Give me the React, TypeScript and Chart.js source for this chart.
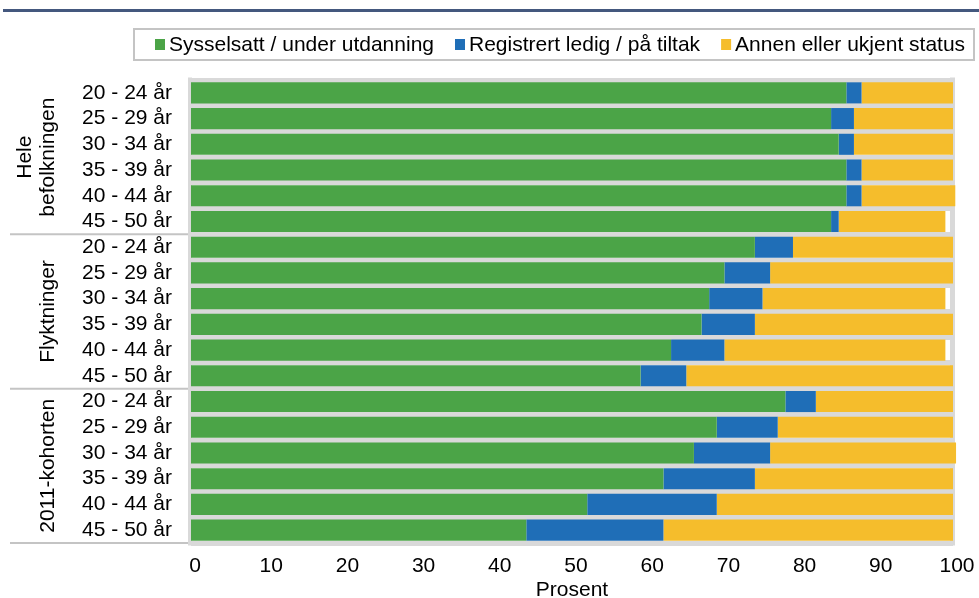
import React, { useEffect, useRef } from "react";
import { Chart, registerables } from "chart.js";

Chart.register(...registerables);

const FONT = "'Liberation Sans', Arial, Helvetica, sans-serif";

const ageGroups = ["20 - 24 år", "25 - 29 år", "30 - 34 år", "35 - 39 år", "40 - 44 år", "45 - 50 år"];
const groupNames = [["Hele", "befolkningen"], ["Flyktninger"], ["2011-kohorten"]];
const categories = groupNames.flatMap(() => ageGroups);

const seriesNames = ["Sysselsatt / under utdanning", "Registrert ledig / på tiltak", "Annen eller ukjent status"];
const seriesColors = ["#4ba447", "#1f6eb7", "#f5bd2c"];

const sysselsatt = [86, 84, 85, 86, 86, 84, 74, 70, 68, 67, 63, 59, 78, 69, 66, 62, 52, 44];
const ledig = [2, 3, 2, 2, 2, 1, 5, 6, 7, 7, 7, 6, 4, 8, 10, 12, 17, 18];
const annen = [12, 13, 13, 12, 12.3, 14, 21, 24, 24, 26, 29, 35, 18, 23, 24.4, 26, 31, 38];

const xMin = 0;
const xMax = 100;
const xStep = 10;
const xTitle = "Prosent";

const framePlugin = {
  id: "frame",
  beforeDatasetsDraw(chart: any) {
    const { ctx, chartArea: a } = chart;
    ctx.save();
    ctx.strokeStyle = "#d9d9d9";
    ctx.lineWidth = 4;
    ctx.beginPath();
    ctx.moveTo(a.left - 1, a.top - 2.5);
    ctx.lineTo(a.left - 1, a.bottom + 2.5);
    ctx.stroke();
    ctx.lineWidth = 5;
    ctx.beginPath();
    ctx.moveTo(a.right - 0.5, a.top - 2.5);
    ctx.lineTo(a.right - 0.5, a.bottom + 2.5);
    ctx.stroke();
    ctx.restore();
  },
};

const decorPlugin = {
  id: "decor",
  afterDraw(chart: any) {
    const { ctx, chartArea: a, scales } = chart;
    const y = scales.y;
    ctx.save();
    // header rule
    ctx.strokeStyle = "#44587e";
    ctx.lineWidth = 3;
    ctx.beginPath();
    ctx.moveTo(3, 10.5);
    ctx.lineTo(chart.width, 10.5);
    ctx.stroke();

    // legend
    ctx.font = `21px ${FONT}`;
    ctx.textBaseline = "middle";
    ctx.textAlign = "left";
    ctx.strokeStyle = "#c4c4c4";
    ctx.lineWidth = 2;
    ctx.strokeRect(134, 29, 840, 31);
    let x = 155;
    chart.data.datasets.forEach((ds: any) => {
      ctx.fillStyle = ds.backgroundColor;
      ctx.fillRect(x, 39, 10, 11);
      ctx.fillStyle = "#000";
      ctx.fillText(ds.label, x + 14, 45);
      x += 14 + ctx.measureText(ds.label).width + 21;
    });

    // group separators and labels
    const n = ageGroups.length;
    const step = y.getPixelForValue(1) - y.getPixelForValue(0);
    groupNames.forEach((lines, g) => {
      const topY = y.getPixelForValue(g * n) - step / 2;
      const botY = y.getPixelForValue(g * n + n - 1) + step / 2;
      ctx.strokeStyle = "#c4c4c4";
      ctx.lineWidth = 2;
      ctx.beginPath();
      ctx.moveTo(10, botY);
      ctx.lineTo(a.left - 3, botY);
      ctx.stroke();
      const cy = (topY + botY) / 2;
      ctx.fillStyle = "#000";
      ctx.textAlign = "center";
      ctx.textBaseline = "middle";
      lines.forEach((line, i) => {
        const lx = 48 - (lines.length - 1 - i) * 23;
        ctx.save();
        ctx.translate(lx, cy);
        ctx.rotate(-Math.PI / 2);
        ctx.fillText(line, 0, 0);
        ctx.restore();
      });
    });
    ctx.restore();
  },
};

export default function App() {
  const ref = useRef<HTMLCanvasElement | null>(null);

  useEffect(() => {
    if (!ref.current) return;
    const values = [sysselsatt, ledig, annen];
    const chart = new Chart(ref.current, {
      type: "bar",
      data: {
        labels: categories,
        datasets: seriesNames.map((name, i) => ({
          label: name,
          data: values[i],
          backgroundColor: seriesColors[i],
          borderWidth: 0,
          barPercentage: 0.82,
          categoryPercentage: 1,
          clip: false as any,
        })),
      },
      options: {
        indexAxis: "y",
        responsive: false,
        animation: false,
        events: [],
        layout: { padding: { top: 80, right: 26, bottom: -3, left: 0 } },
        plugins: {
          legend: { display: false },
          tooltip: { enabled: false },
          title: { display: false },
        },
        scales: {
          x: {
            stacked: true,
            min: xMin,
            max: xMax,
            grid: { display: false, drawTicks: false },
            border: { display: false },
            ticks: {
              stepSize: xStep,
              autoSkip: false,
              maxRotation: 0,
              minRotation: 0,
              padding: 13,
              labelOffset: 4,
              color: "#000",
              font: { family: FONT, size: 21, lineHeight: 1 },
            },
            title: {
              display: true,
              text: xTitle,
              color: "#000",
              padding: { top: -10, bottom: 0 },
              font: { family: FONT, size: 21, lineHeight: 1 },
            },
            afterFit(scale: any) {
              scale.paddingRight = 0;
              scale.paddingLeft = 0;
            },
          },
          y: {
            stacked: true,
            grid: { offset: true, color: "#d9d9d9", lineWidth: 5, drawTicks: false },
            border: { display: false },
            ticks: {
              autoSkip: false,
              padding: 19,
              color: "#000",
              font: { family: FONT, size: 21, lineHeight: 1 },
            },
            afterFit(scale: any) {
              scale.width = 191;
              scale.paddingTop = 0;
              scale.paddingBottom = 0;
            },
          },
        },
      },
      plugins: [framePlugin, decorPlugin],
    });
    return () => chart.destroy();
  }, []);

  return (
    <div style={{ position: "absolute", left: 0, top: 0, width: 979, height: 598, background: "#fff" }}>
      <canvas ref={ref} width={979} height={598} style={{ display: "block", width: 979, height: 598 }} />
    </div>
  );
}
